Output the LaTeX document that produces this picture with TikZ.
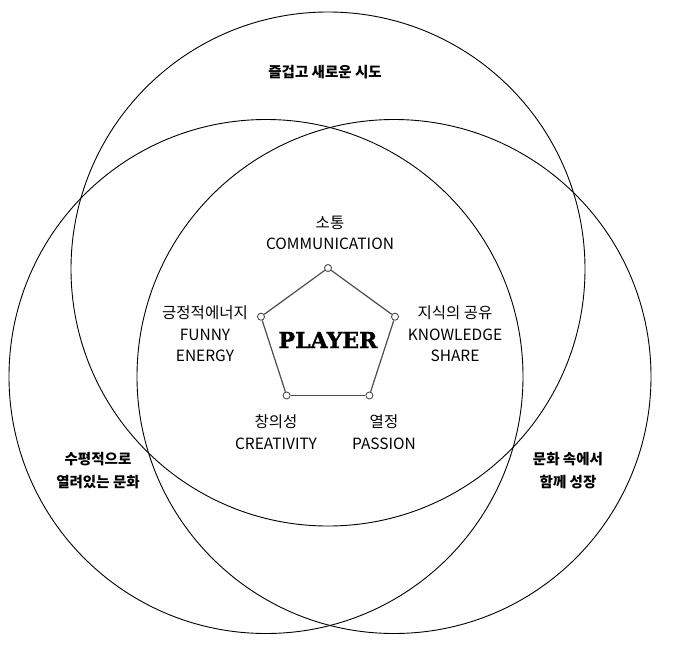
\documentclass[tikz,border=0pt]{standalone}
\usepackage{fontspec}
\setmainfont{Noto Sans CJK KR}
\newfontfamily\slabfont{DejaVu Serif}[BoldFeatures={FakeBold=1.5}]
\usepackage{tikz}
\usetikzlibrary{positioning}
\definecolor{edgegray}{gray}{0.3}
\tikzset{
  sphere/.style = {draw=black, line width=0.9pt},
  corner/.style = {circle, draw=edgegray, fill=white, line width=0.9pt, minimum size=7pt, inner sep=0pt},
  edge/.style = {draw=edgegray, line width=1.2pt},
  value/.style = {align=center, font=\fontsize{15.5}{21.5}\selectfont, inner sep=0pt},% valeurs autour du pentagone
  realm/.style = {align=center, font=\bfseries\fontsize{14.5}{23}\selectfont, inner sep=0pt},% zones des cercles
}
\begin{document}
\begin{tikzpicture}[x=1pt,y=-1pt]
  \path[use as bounding box] (0,0) rectangle (673,657);

  \draw[sphere] (328,269) circle (257);
  \draw[sphere] (266,376.5) circle (257);
  \draw[sphere] (394,376.5) circle (257);

  \node[realm] (fun) at (325,72) {즐겁고 새로운 시도};
  \node[realm] (open) at (98,471) {수평적으로\\열려있는 문화};
  \node[realm] (grow) at (568,471) {문화 속에서\\함께 성장};

  \node[corner] (com) at (328,268) {};
  \node[corner] (kno) at (395,316.7) {};
  \node[corner] (pas) at (369.4,395.5) {};
  \node[corner] (cre) at (286.6,395.5) {};
  \node[corner] (ene) at (261,316.7) {};

  \path[edge] (com) -- (kno);
  \path[edge] (kno) -- (pas);
  \path[edge] (pas) -- (cre);
  \path[edge] (cre) -- (ene);
  \path[edge] (ene) -- (com);

  \node (player) at (328,340) {\slabfont\bfseries\fontsize{22}{22}\selectfont PLAYER};

  \node[value] (comtext) at (330,233) {소통\\COMMUNICATION};
  \node[value] (knotext) at (455,334) {지식의 공유\\KNOWLEDGE\\SHARE};
  \node[value] (enetext) at (205,334) {긍정적에너지\\FUNNY\\ENERGY};
  \node[value] (cretext) at (276,432) {창의성\\CREATIVITY};
  \node[value] (pastext) at (384,432) {열정\\PASSION};
\end{tikzpicture}
\end{document}
